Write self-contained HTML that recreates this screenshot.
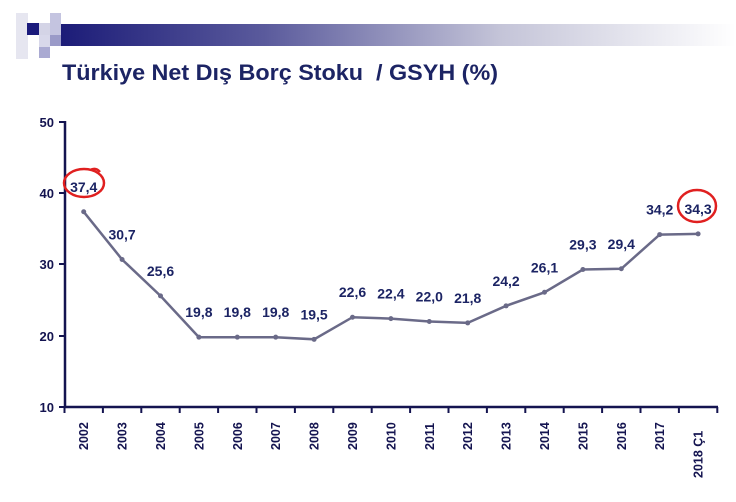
<!DOCTYPE html>
<html><head><meta charset="utf-8"><style>
html,body{margin:0;padding:0;background:#fff;}
svg{display:block;}
text{font-family:"Liberation Sans",Arial,sans-serif;}
</style></head><body>
<svg width="736" height="502" viewBox="0 0 736 502" xmlns="http://www.w3.org/2000/svg">
<defs>
<linearGradient id="g" x1="0" x2="1" y1="0" y2="0">
<stop offset="0" stop-color="#1c1c78"/>
<stop offset="0.3" stop-color="#5a5a9c"/>
<stop offset="0.65" stop-color="#c4c4d8"/>
<stop offset="1" stop-color="#ffffff"/>
</linearGradient>
</defs>
<rect x="61" y="24" width="675" height="22" fill="url(#g)"/>
<rect x="16" y="13" width="12" height="46" fill="#e6e6f0"/>
<rect x="27" y="23" width="12" height="12" fill="#1b1b7c"/>
<rect x="39" y="23" width="11" height="12" fill="#d4d4e6"/>
<rect x="50" y="13" width="11" height="22" fill="#c4c4e0"/>
<rect x="39" y="35" width="11" height="12" fill="#d8d8ea"/>
<rect x="50" y="35" width="11" height="11" fill="#9a9ac8"/>
<rect x="39" y="47" width="11" height="11" fill="#aaaad2"/>
<text x="62" y="80" font-size="22" font-weight="bold" fill="#1c2464" textLength="436" lengthAdjust="spacingAndGlyphs" xml:space="preserve">Türkiye Net Dış Borç Stoku  / GSYH (%)</text>

<g stroke="#141450" stroke-width="2.5" fill="none">
<line x1="65" y1="121" x2="65" y2="408"/>
<line x1="64" y1="407" x2="718" y2="407"/>
</g>
<g stroke="#141450" stroke-width="2">
<line x1="59" y1="122" x2="65" y2="122"/>
<line x1="59" y1="193" x2="65" y2="193"/>
<line x1="59" y1="264" x2="65" y2="264"/>
<line x1="59" y1="336" x2="65" y2="336"/>
<line x1="59" y1="407" x2="65" y2="407"/>
</g>
<g font-size="13" font-weight="bold" fill="#141450" text-anchor="end">
<text x="54" y="127">50</text>
<text x="54" y="198">40</text>
<text x="54" y="269">30</text>
<text x="54" y="341">20</text>
<text x="54" y="412">10</text>
</g>
<g id="xt" stroke="#141450" stroke-width="2"></g>
<g id="xl" font-size="12.5" font-weight="bold" fill="#141450"></g>
<polyline id="ln" fill="none" stroke="#6a6a88" stroke-width="2.5"/>
<g id="pts" fill="#6a6a88"></g>
<g id="lb" font-size="14" font-weight="bold" fill="#1c2464" text-anchor="middle"></g>
<ellipse cx="84" cy="183" rx="20" ry="14" fill="none" stroke="#e02020" stroke-width="2.5"/>
<path d="M90 170 Q96 167 100 172" fill="none" stroke="#e02020" stroke-width="2.5"/>
<ellipse cx="697" cy="206" rx="19" ry="16" fill="none" stroke="#e02020" stroke-width="2.5"/>
<script>
var vals=[37.4,30.7,25.6,19.8,19.8,19.8,19.5,22.6,22.4,22.0,21.8,24.2,26.1,29.3,29.4,34.2,34.3];
var yrs=["2002","2003","2004","2005","2006","2007","2008","2009","2010","2011","2012","2013","2014","2015","2016","2017","2018 Ç1"];
var ns="http://www.w3.org/2000/svg",w=38.4,x0=64.5,pts=[];
function el(t,a,p,txt){var e=document.createElementNS(ns,t);for(var k in a)e.setAttribute(k,a[k]);if(txt)e.textContent=txt;document.getElementById(p).appendChild(e);}
for(var i=0;i<=17;i++){var tx=x0+i*w;el("line",{x1:tx,y1:407,x2:tx,y2:413},"xt");}
for(var i=0;i<17;i++){var x=x0+w/2+i*w,y=407-(vals[i]-10)*7.125;pts.push(x.toFixed(1)+","+y.toFixed(1));
el("circle",{cx:x,cy:y,r:2.5},"pts");
el("text",{x:x,y:y-20},"lb",vals[i].toFixed(1).replace(".",","));
el("text",{x:0,y:0,transform:"translate("+(x+4.5)+","+(i==16?478:450)+") rotate(-90)"},"xl",yrs[i]);}
document.getElementById("ln").setAttribute("points",pts.join(" "));
</script>
</svg>
</body></html>
